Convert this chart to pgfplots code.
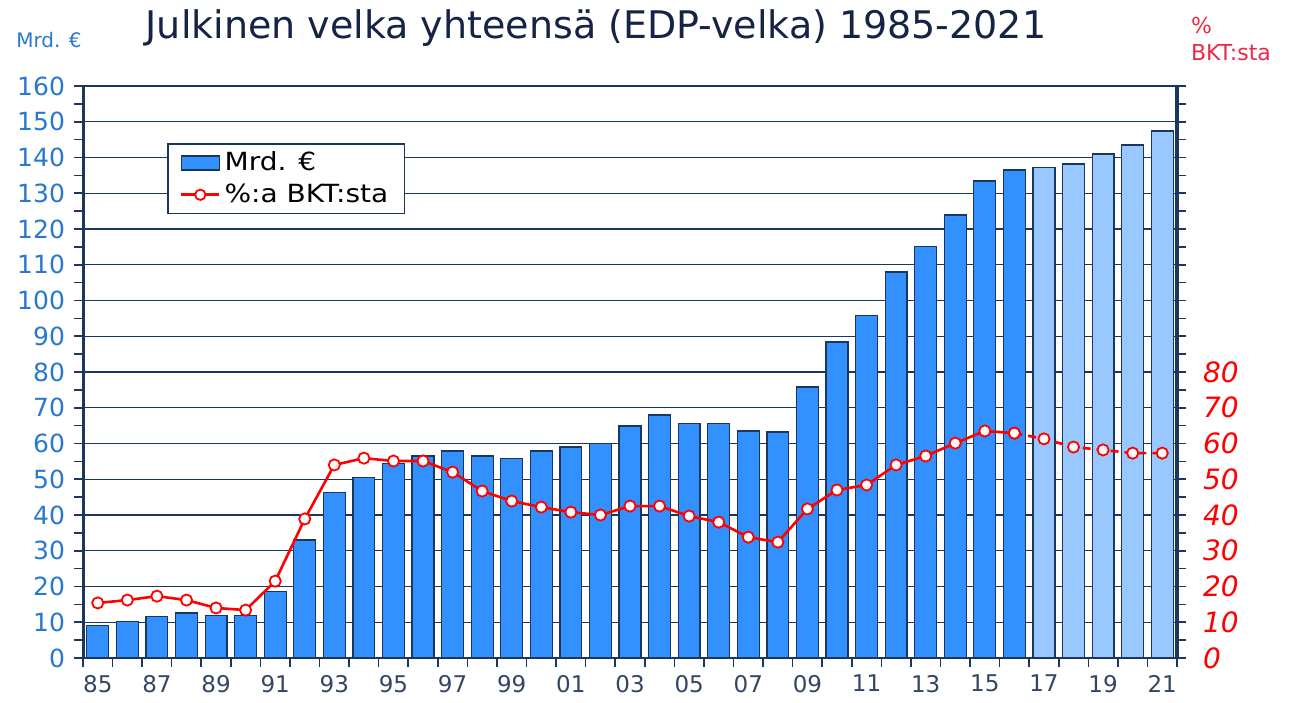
\documentclass[border=0pt]{standalone}
\usepackage{fontspec}
\setmainfont{DejaVu Sans}
\newfontfamily\legfont[FakeStretch=1.12]{DejaVu Sans}
\usepackage{pgfplots}
\pgfplotsset{compat=1.18}
\definecolor{barblue}{RGB}{51,144,255}
\definecolor{barlight}{RGB}{153,200,255}
\definecolor{navy}{RGB}{25,55,95}
\definecolor{ticklab}{RGB}{40,120,205}
\definecolor{xlab}{RGB}{50,70,100}
\definecolor{titlec}{RGB}{20,35,70}
\definecolor{linered}{RGB}{255,0,0}
\definecolor{pctred}{RGB}{235,40,70}
\pgfplotsset{
  barleg/.style={legend image code/.code={\draw[fill=barblue, draw=navy, line width=0.6pt] (0pt,-3.5pt) rectangle (19pt,3.5pt);}},
  lineleg/.style={legend image code/.code={\draw[linered, line width=1.3pt] (0pt,0pt) -- (19pt,0pt); \draw[fill=white,draw=linered,line width=0.9pt] (9.5pt,0pt) circle (2.6pt);}},
}
\begin{document}
\begin{tikzpicture}[x=1pt,y=1pt]
\useasboundingbox (0,0) rectangle (649.5,351);
\begin{axis}[
  at={(41.5pt,22pt)}, anchor=south west,
  scale only axis, width=547pt, height=286pt,
  xmin=1984.5, xmax=2021.5, ymin=0, ymax=160,
  axis line style={navy, line width=1pt},
  tick style={navy, line width=0.8pt},
  tick align=outside,
  major tick length=4.5pt, minor tick length=4.5pt,
  ytick={0,10,...,160}, minor y tick num=1,
  ytick pos=left, xtick pos=bottom,
  ymajorgrids, grid style={navy, line width=0.7pt},
  xtick={1984.5,1985.5,...,2021.5}, xticklabels={},
  extra x ticks={1985,1987,...,2021},
  extra x tick labels={85,87,89,91,93,95,97,99,01,03,05,07,09,11,13,15,17,19,21},
  extra x tick style={major tick length=0pt, grid=none, xticklabel style={yshift=-5pt}},
  /pgf/number format/assume math mode=true,
  yticklabel style={font=\fontsize{12.5}{14}\selectfont, color=ticklab, xshift=-1pt},
  xticklabel style={font=\fontsize{11.5}{13}\selectfont, color=xlab},
  legend style={at={(0.077,0.9)}, anchor=north west, draw=navy, line width=0.8pt,
    font=\legfont\fontsize{12.5}{15}\selectfont, fill=white, inner xsep=6pt, inner ysep=2pt,
    row sep=1pt},
  legend cell align=left,
]
\addplot[ybar, bar width=0.74, bar shift=0pt, fill=barblue, draw=navy, line width=0.6pt, barleg]
coordinates {
(1985,9.2)(1986,10.1)(1987,11.7)(1988,12.6)(1989,12.0)(1990,12.0)(1991,18.5)
(1992,33.0)(1993,46.2)(1994,50.6)(1995,54.3)(1996,56.5)(1997,57.9)(1998,56.5)
(1999,55.7)(2000,57.9)(2001,59.0)(2002,59.9)(2003,64.9)(2004,68.0)(2005,65.7)
(2006,65.7)(2007,63.5)(2008,63.2)(2009,75.8)(2010,88.4)(2011,95.7)(2012,108.0)
(2013,115.0)(2014,123.9)(2015,133.4)(2016,136.5)};
\addlegendentry{Mrd. €}
\addplot[ybar, bar width=0.74, bar shift=0pt, fill=barlight, draw=navy, line width=0.6pt, forget plot]
coordinates {(2017,137.3)(2018,138.2)(2019,141.0)(2020,143.5)(2021,147.4)};
\addlegendimage{lineleg}
\addlegendentry{\%:a BKT:sta}
\draw[navy, line width=1.6pt] (rel axis cs:0,0) -- (rel axis cs:0,1);
\end{axis}
\begin{axis}[
  at={(41.5pt,22pt)}, anchor=south west,
  scale only axis, width=547pt, height=286pt,
  xmin=1984.5, xmax=2021.5, ymin=0, ymax=160,
  axis y line*=right, axis x line=none,
  axis line style={navy, line width=1.6pt},
  tick style={navy, line width=0.8pt},
  tick align=outside,
  major tick length=4.5pt, minor tick length=4.5pt,
  ytick={0,10,...,160}, minor y tick num=1,
  yticklabels={0,10,20,30,40,50,60,70,80,{},{},{},{},{},{},{},{}},
  /pgf/number format/assume math mode=true,
  yticklabel style={font=\fontsize{14}{16}\selectfont\itshape, color=linered, xshift=5pt},
]
\addplot[linered, line width=1.3pt, mark=*, mark size=2.8pt,
  mark options={fill=white, draw=linered, line width=0.9pt, solid}]
coordinates {
(1985,15.4)(1986,16.2)(1987,17.3)(1988,16.2)(1989,14.0)(1990,13.4)(1991,21.5)
(1992,38.9)(1993,54.0)(1994,55.9)(1995,55.1)(1996,55.1)(1997,52.0)(1998,46.7)
(1999,43.9)(2000,42.2)(2001,40.8)(2002,40.0)(2003,42.5)(2004,42.5)(2005,39.7)
(2006,38.0)(2007,33.8)(2008,32.4)(2009,41.7)(2010,47.0)(2011,48.4)(2012,54.0)
(2013,56.5)(2014,60.1)(2015,63.5)(2016,62.9)};
\addplot[linered, line width=1.3pt, dash pattern=on 4pt off 3pt, mark=*, mark size=2.8pt,
  mark options={fill=white, draw=linered, line width=0.9pt, solid}]
coordinates {(2016,62.9)(2017,61.3)(2018,59.0)(2019,58.2)(2020,57.3)(2021,57.3)};
\end{axis}
\node[text=titlec, font=\fontsize{19}{22}\selectfont] at (298,337) {Julkinen velka yhteensä (EDP-velka) 1985-2021};
\node[text=ticklab, font=\fontsize{10}{12}\selectfont] at (24.5,331) {Mrd. €};
\node[text=pctred, font=\fontsize{11}{13.5}\selectfont, anchor=west, align=left] at (592,331.5) {\%\\BKT:sta};
\end{tikzpicture}
\end{document}
